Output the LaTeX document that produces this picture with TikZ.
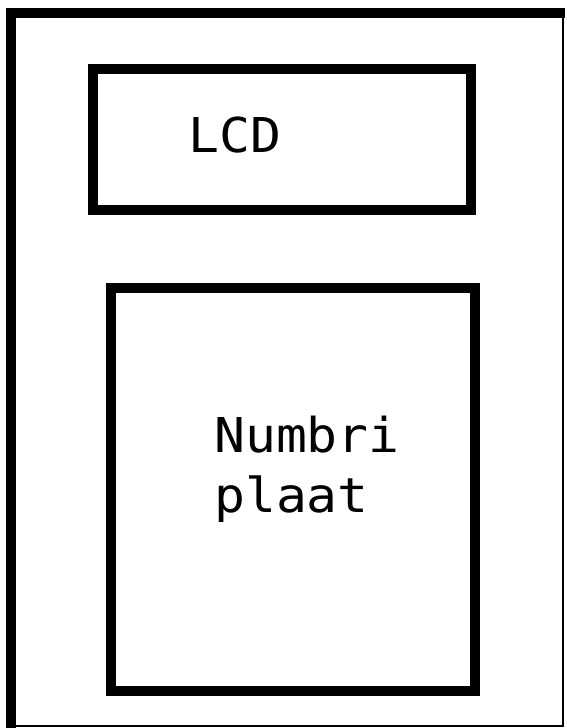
\documentclass[tikz,border=0pt]{standalone}
\usepackage{fontspec}
\setmonofont[FakeStretch=1.07]{DejaVu Sans Mono}
\usetikzlibrary{positioning}

\begin{document}
\begin{tikzpicture}[
        x=1pt, y=-1pt,
        panel/.style={rectangle, draw=black, line width=10pt, inner sep=0pt},
        caption/.style={inner sep=0pt, align=left, font=\ttfamily\fontsize{48}{60}\selectfont},
        frame/.style={line width=10pt},
        rim/.style={line width=2.5pt}
    ]
            \useasboundingbox (0,0) rectangle (567,728);

            % Casing
            \draw[frame] (11,728) -- (11,13) -- (565,13);
            \draw[rim] (563,13) -- (563,726) -- (11,726);

            % Display and keypad
            \node[panel, minimum width=378pt, minimum height=141pt] (lcd) at (282,139.5) {};
            \node[panel, minimum width=364pt, minimum height=403pt] (pad) at (293,489.5) {};

            % Labels
            \node[caption, anchor=base west] (lcdtext) at (188,152) {LCD};
            \node[caption, anchor=base west] (padtext) at (214,512) {Numbri\\plaat};
    \end{tikzpicture}
\end{document}
